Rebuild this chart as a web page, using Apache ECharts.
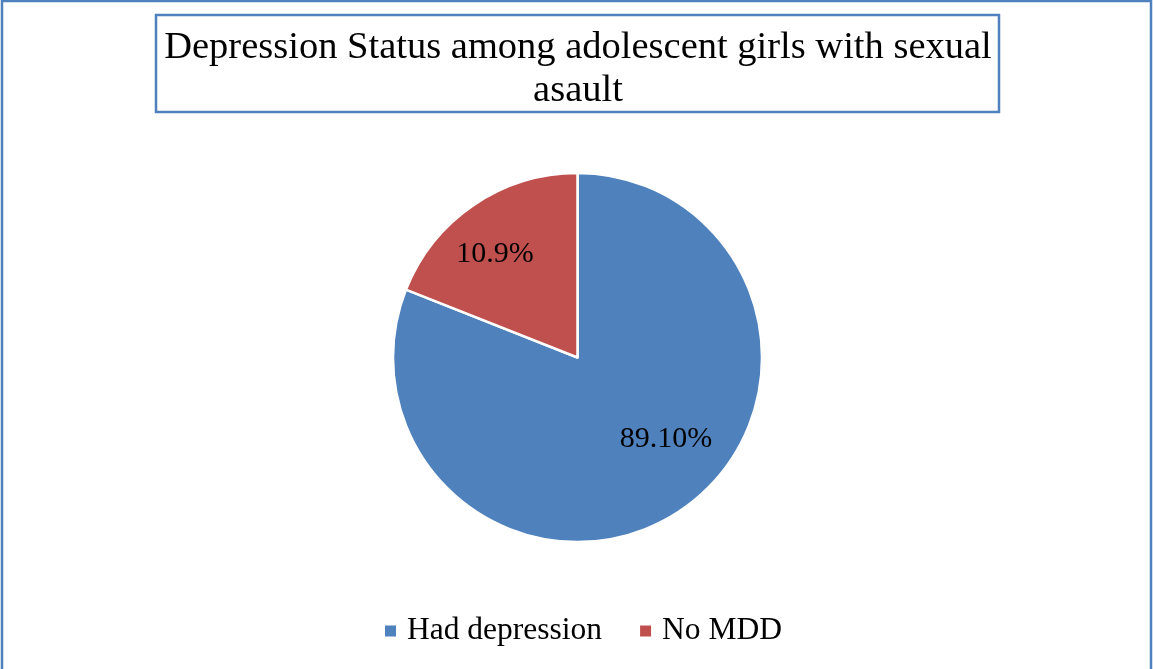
<!DOCTYPE html>
<html>
<head>
<meta charset="utf-8">
<script src="https://cdn.jsdelivr.net/npm/echarts@6/dist/echarts.min.js"></script>
<style>
html,body{margin:0;padding:0;background:#fff;}
#chart{width:1153px;height:669px;}
</style>
</head>
<body>
<div id="chart"></div>
<script>
// Data
const categories = ['Had depression', 'No MDD'];
// slice sizes as drawn in the picture (angular share, %)
const sliceShares = [81, 19];
// label texts as printed on the slices
const labelTexts = ['89.10%', '10.9%'];
const colors = ['#4F81BD', '#C0504D'];
const titleText = 'Depression Status among adolescent girls with sexual\nasault';

const chart = echarts.init(document.getElementById('chart'), null, {renderer: 'canvas'});
const serif = '"Liberation Serif", "Times New Roman", serif';

const labelOffsets = [[35, 3], [-29, -25]];

chart.setOption({
  animation: false,
  backgroundColor: '#ffffff',
  graphic: [
    {type: 'rect', z: 0, shape: {x: 2, y: 1, width: 1149, height: 700},
     style: {fill: 'none', stroke: '#4F81BD', lineWidth: 2.5}},
    {type: 'rect', z: 0, shape: {x: 156, y: 15, width: 843, height: 97},
     style: {fill: '#fff', stroke: '#4F81BD', lineWidth: 2.5}}
  ],
  title: {
    text: titleText,
    left: 573,
    top: 21,
    textAlign: 'center',
    textStyle: {fontFamily: serif, fontSize: 38.5, fontWeight: 'normal', color: '#000', lineHeight: 43}
  },
  legend: {
    data: categories,
    left: 385,
    top: 615,
    padding: 0,
    icon: 'rect',
    itemWidth: 11,
    itemHeight: 11,
    itemGap: 38,
    itemStyle: {borderWidth: 0},
    textStyle: {fontFamily: serif, fontSize: 31.5, color: '#000', padding: [0, 0, 0, 6]}
  },
  series: [{
    type: 'pie',
    center: [577.5, 357.5],
    radius: [0, 184.5],
    startAngle: 90,
    clockwise: true,
    avoidLabelOverlap: false,
    itemStyle: {borderColor: '#fff', borderWidth: 2.5},
    emphasis: {disabled: true},
    labelLine: {show: false},
    data: categories.map((c, i) => ({
      name: c,
      value: sliceShares[i],
      itemStyle: {color: colors[i]},
      label: {offset: labelOffsets[i]}
    })),
    label: {
      show: true,
      position: 'inside',
      formatter: p => labelTexts[p.dataIndex],
      fontFamily: serif,
      fontSize: 30,
      color: '#000'
    }
  }]
});
</script>
</body>
</html>
